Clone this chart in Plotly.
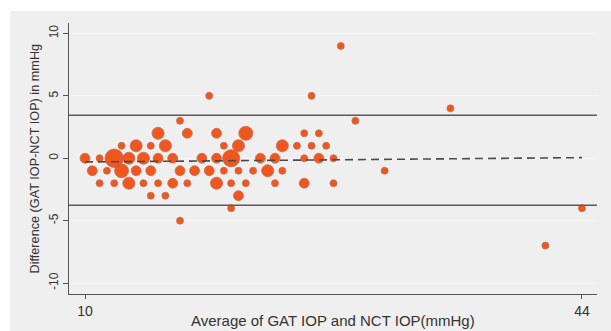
import math
import plotly.graph_objects as go

# Bland-Altman agreement plot: GAT vs NCT intraocular pressure.
# Each bubble is one (average, difference) pair; its area scales with how many eyes share it.
avg_iop = [
    27.5,
    18.5, 25.5,
    35.0,
    16.5, 28.5,
    15.0, 17.0, 19.0, 21.0, 25.0, 26.0,
    12.5, 13.5, 14.5, 15.5, 19.5, 20.5, 23.5, 24.5, 25.5, 26.5,
    10.0, 11.0, 12.0, 13.0, 14.0, 15.0, 16.0, 18.0, 19.0, 20.0, 22.0, 23.0, 25.0, 26.0, 27.0,
    10.5, 11.5, 12.5, 13.5, 14.5, 16.5, 17.5, 18.5, 19.5, 20.5, 21.5, 22.5, 23.5, 30.5,
    11.0, 12.0, 13.0, 14.0, 15.0, 16.0, 17.0, 19.0, 20.0, 21.0, 23.0, 25.0, 27.0,
    14.5, 15.5, 20.5,
    20.0, 44.0,
    16.5,
    41.5,
]
diff_iop = [
    9,
    5, 5,
    4,
    3, 3,
    2, 2, 2, 2, 2, 2,
    1, 1, 1, 1, 1, 1, 1, 1, 1, 1,
    0, 0, 0, 0, 0, 0, 0, 0, 0, 0, 0, 0, 0, 0, 0,
    -1, -1, -1, -1, -1, -1, -1, -1, -1, -1, -1, -1, -1, -1,
    -2, -2, -2, -2, -2, -2, -2, -2, -2, -2, -2, -2, -2,
    -3, -3, -3,
    -4, -4,
    -5,
    -7,
]
freq = [
    1,
    1, 1,
    1,
    1, 1,
    3, 2, 2, 4, 1, 1,
    1, 3, 1, 3, 1, 3, 3, 1, 1, 1,
    2, 1, 7, 3, 3, 2, 2, 2, 2, 6, 2, 2, 1, 2, 1,
    2, 1, 4, 2, 2, 2, 2, 2, 1, 1, 1, 3, 1, 1,
    1, 1, 3, 1, 1, 2, 1, 3, 1, 1, 1, 2, 1,
    1, 1, 2,
    1, 1,
    1,
    1,
]

# Limits of agreement and the fitted trend of difference on average
upper_loa = 3.45
lower_loa = -3.77
trend_x = [10, 44]
trend_y = [-0.3, 0.05]

x_ticks = [10, 44]
y_ticks = [-10, -5, 0, 5, 10]

BG = "#efefef"
INK = "#333333"
FONT = "Liberation Sans, Arial, sans-serif"

# bubble area proportional to frequency (single eye -> 7 px across)
bubble_d = [7 * math.sqrt(n) for n in freq]

fig = go.Figure()

fig.add_trace(go.Scatter(
    x=avg_iop, y=diff_iop, mode="markers",
    marker=dict(
        size=bubble_d, sizemode="diameter",
        color="#f04f14", opacity=0.95,
        line=dict(color="#c06a4c", width=0.8),
    ),
    hoverinfo="x+y", showlegend=False,
))

fig.add_trace(go.Scatter(
    x=trend_x, y=trend_y, mode="lines",
    line=dict(color="#4a4a4a", width=1.6, dash="8px,5px"),
    hoverinfo="skip", showlegend=False,
))

for level in (upper_loa, lower_loa):
    fig.add_shape(type="line", xref="paper", x0=0, x1=1, yref="y", y0=level, y1=level,
                  line=dict(color="#5a5a5a", width=1.5), layer="above")

# Grey panel behind the whole graph
fig.add_shape(type="rect", xref="paper", yref="paper", x0=-59 / 528, x1=1.1,
              y0=-0.2, y1=1 + 12 / 271, fillcolor=BG, line=dict(width=0), layer="below")

fig.update_layout(
    width=611, height=331,
    margin=dict(l=69, r=14, t=23, b=37),
    paper_bgcolor="white", plot_bgcolor=BG,
    font=dict(family=FONT, size=12, color=INK),
    xaxis=dict(
        range=[8.905, 45.03], tickvals=x_ticks, ticktext=[str(v) for v in x_ticks],
        showgrid=False, zeroline=False,
        showline=True, linecolor="#555555", linewidth=1,
        ticks="outside", ticklen=4, tickcolor="#555555",
        tickfont=dict(size=14, color=INK),
    ),
    yaxis=dict(
        range=[-10.88, 10.84], tickvals=y_ticks, ticktext=[str(v) for v in y_ticks],
        tickangle=-90,
        showgrid=True, gridcolor="#f6f6f6", gridwidth=1, zeroline=False,
        showline=True, linecolor="#555555", linewidth=1,
        ticks="outside", ticklen=5, tickcolor="#555555",
        tickfont=dict(size=12, color=INK),
    ),
    annotations=[
        dict(text="Average of GAT IOP and NCT IOP(mmHg)", xref="paper", yref="paper",
             x=0.5, y=-26 / 271, yanchor="middle", showarrow=False,
             font=dict(size=15, color=INK)),
        dict(text="Difference (GAT IOP-NCT IOP) in mmHg", xref="paper", yref="paper",
             x=-35 / 528, y=0.5, xanchor="center", yanchor="middle", textangle=-90,
             showarrow=False, font=dict(size=12.7, color=INK)),
    ],
)

fig.write_html("out.html")
